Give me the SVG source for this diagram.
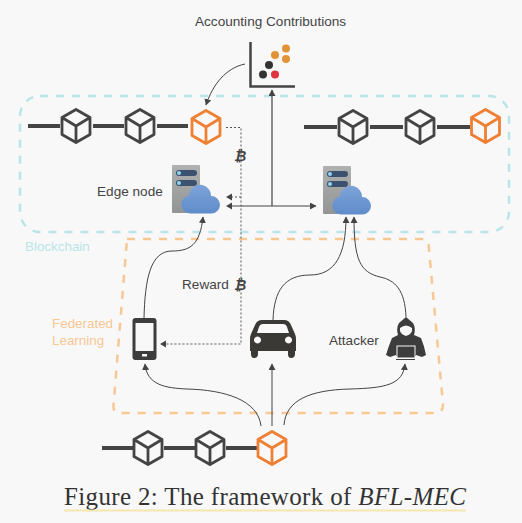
<svg xmlns="http://www.w3.org/2000/svg" width="522" height="523" viewBox="0 0 522 523">
<style>
.t{font-family:"Liberation Sans",Arial,sans-serif;font-size:13.6px;fill:#444}
.lnk{stroke:#444;stroke-width:4}
.cube{fill:none;stroke:#444;stroke-width:2.8;stroke-linejoin:round}
.cube.o{stroke:#ef7f33}
.c{fill:none;stroke:#444;stroke-width:1}
.d{fill:none;stroke:#555;stroke-width:1;stroke-dasharray:2 2}
.btc{font-family:"DejaVu Sans",sans-serif;font-weight:bold;font-style:italic;font-size:14px;fill:#444}
</style>
<defs>
<marker id="a" markerUnits="userSpaceOnUse" markerWidth="7" markerHeight="7" refX="6" refY="3.5" orient="auto"><path d="M0 0L6.500 3.500L0 7Z" fill="#444"/></marker>
<linearGradient id="cl" x1="0" y1="0" x2="0" y2="1"><stop offset="0" stop-color="#7da3d9"/><stop offset="1" stop-color="#5f8cca"/></linearGradient>
<linearGradient id="sv" x1="0" y1="0" x2="0" y2="1"><stop offset="0" stop-color="#b0b2b2"/><stop offset="1" stop-color="#939595"/></linearGradient>
<g id="cb"><path d="M0-16.500L14-8.500V8.500L0 16.500L-14 8.500V-8.500Z M-14-8.500L0 0L14-8.500 M0 0V16.500"/></g>
<g id="srv">
<rect x="0" y="0" width="28" height="48" rx="1" fill="url(#sv)"/>
<rect x="4" y="5" width="21" height="6" rx="3" fill="#3c5070"/><circle cx="7" cy="8" r="2" fill="#8fd6ee"/>
<rect x="4" y="15" width="21" height="6" rx="3" fill="#3c5070"/><circle cx="7" cy="18" r="2" fill="#8fd6ee"/>
<path d="M18 48.500A9 9 0 0 1 17 30.600A11 11 0 0 1 39 31A8.700 8.700 0 0 1 39.500 48.500Z" fill="url(#cl)"/>
</g>
</defs>
<rect width="522" height="523" fill="#f8f8f8"/>
<g id="blockchain-region">
<rect x="20" y="96" width="489" height="136" rx="20" fill="none" stroke="#b9e5e8" stroke-width="2.500" stroke-dasharray="8 8"/>
<text x="25" y="251" font-family="Liberation Sans,sans-serif" font-size="13.400" fill="#b9e5e8">Blockchain</text>
</g>
<g id="fl-region">
<path d="M127 239H422Q428 239 428.500 244L443 404Q443 413 436 413H119Q113 413 113.500 405Z" fill="none" stroke="#f7c794" stroke-width="2.500" stroke-dasharray="8 8"/>
<text font-family="Liberation Sans,sans-serif" font-size="13.400" fill="#f7c794"><tspan x="52" y="328">Federated</tspan><tspan x="52" y="345">Learning</tspan></text>
</g>
<g id="connectors">
<path class="c" marker-end="url(#a)" d="M245 64C226 68 213 84 206 105"/>
<path class="c" style="stroke-width:1.200" marker-end="url(#a)" d="M272 206V90"/>
<path class="c" marker-end="url(#a)" d="M230 206H316"/>
<path fill="#444" d="M226 206L232 202.500V209.500Z"/>
<path class="d" d="M226 127.500H241V344H166"/>
<path fill="#444" d="M160 344L166 340.500V347.500Z"/>
<path class="d" d="M241 197H230"/>
<path fill="#444" d="M226 197L232 193.500V200.500Z"/>
<path class="c" marker-end="url(#a)" d="M144 318C145 280 150 251 172 251C190 251 200 245 203 217"/>
<path class="c" marker-end="url(#a)" d="M273 320C274 290 285 275 310 275C335 275 346 255 346 217"/>
<path class="c" marker-end="url(#a)" d="M406 317C405 290 395 280 380 277C360 272 354 260 354 217"/>
<path class="c" marker-end="url(#a)" d="M261 426C258 400 225 390 187 389C165 388 147 385 145 364"/>
<path class="c" marker-end="url(#a)" d="M272 426V364"/>
<path class="c" marker-end="url(#a)" d="M284 425C286 400 310 390 350 389C385 388 403 385 405 364"/>
</g>
<g id="chart">
<path d="M250.500 42V86.500H295" fill="none" stroke="#444" stroke-width="2.500"/>
<circle cx="286" cy="48.500" r="4" fill="#e29336"/><circle cx="275" cy="55" r="4" fill="#e29336"/><circle cx="286" cy="59" r="4" fill="#e29336"/>
<circle cx="269" cy="65" r="4" fill="#333"/><circle cx="263" cy="74.500" r="4" fill="#333"/><circle cx="275" cy="74.500" r="4" fill="#e0343f"/>
<text class="t" x="195" y="26">Accounting Contributions</text>
</g>
<g id="chain-left">
<path class="lnk" d="M28 126H60M93 126H124M157 126H188"/>
<use href="#cb" x="76" y="126" class="cube"/><use href="#cb" x="140" y="126" class="cube"/><use href="#cb" x="206" y="127" class="cube o"/>
</g>
<g id="chain-right">
<path class="lnk" d="M304 127H337M370 127H403M437 127H470"/>
<use href="#cb" x="353" y="127" class="cube"/><use href="#cb" x="420" y="127" class="cube"/><use href="#cb" x="485.500" y="126" class="cube o"/>
</g>
<g id="chain-bottom">
<path class="lnk" d="M102 448H133M164 448H195M226 448H257"/>
<use href="#cb" x="148" y="448" class="cube"/><use href="#cb" x="210" y="448" class="cube"/><use href="#cb" x="272" y="448" class="cube o"/>
</g>
<g id="edge-node-left">
<use href="#srv" x="172" y="165"/>
<text class="t" x="97" y="196">Edge node</text>
</g>
<g id="edge-node-right"><use href="#srv" x="323" y="166"/></g>
<g id="btc-1"><text class="btc" x="234" y="161">₿</text></g>
<g id="reward">
<text class="t" x="182" y="289">Reward</text>
<text class="btc" x="234" y="290">₿</text>
</g>
<g id="phone">
<rect x="132.500" y="318" width="24" height="42" rx="3" fill="#3d3d3d"/>
<rect x="135.500" y="323" width="18" height="28" fill="#f8f8f8"/>
<rect x="142" y="354" width="5" height="2.500" fill="#f8f8f8"/>
</g>
<g id="car">
<path fill="#3a3936" fill-rule="evenodd" d="M262 320H284Q289 320 291 325L295 334Q296 336 296 340V351H295V354Q295 358 291 358Q288 358 288 354V351H258V354Q258 358 254 358Q251 358 251 354V351H250V340Q250 336 251 334L255 325Q257 320 262 320ZM263 324Q260 324 259 327L257 333H289L287 327Q286 324 283 324ZM257.500 336.500a3.500 3.500 0 1 0 .01 0ZM288.500 336.500a3.500 3.500 0 1 0 .01 0Z"/>
</g>
<g id="attacker">
<path fill="#3e3d3d" d="M406 317L413 323Q416 328 414 335L421 338Q424 345 426 355L422 357L416 355V356H396V355L390 357L386 355Q389 345 392 338L398 335Q396 328 399 323Z"/>
<path fill="#f8f8f8" d="M400 328Q406 323 412 328Q413 334 406 336Q399 334 400 328Z"/>
<rect x="397" y="346" width="18" height="12" fill="#3e3d3d" stroke="#f8f8f8"/>
<path d="M396 359.500H415" stroke="#3e3d3d"/>
<text class="t" x="329" y="345">Attacker</text>
</g>
<g id="caption">
<text x="64" y="505" font-family="Liberation Serif,Times New Roman,serif" font-size="25" fill="#333" textLength="402" lengthAdjust="spacing">Figure 2: The framework of <tspan font-style="italic">BFL-MEC</tspan></text>
<rect x="64" y="509.500" width="402" height="2" fill="#f6e6b0"/>
</g>
</svg>
